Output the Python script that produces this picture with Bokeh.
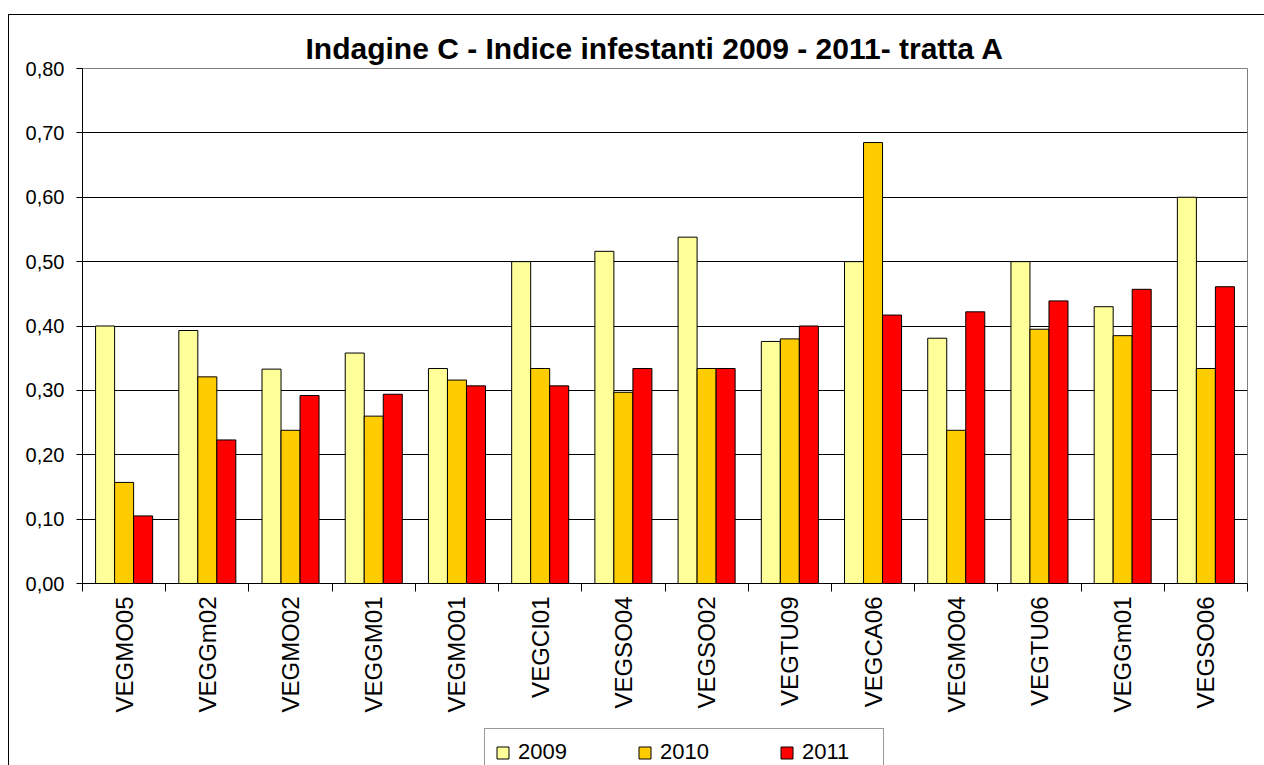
import math
from bokeh.plotting import figure
from bokeh.layouts import column
from bokeh.models import (ColumnDataSource, Range1d, FixedTicker, Legend, LegendItem)
from bokeh.transform import dodge
from bokeh.embed import file_html
from bokeh.resources import INLINE

# ---- data ----
categories = ["VEGMO05", "VEGGm02", "VEGMO02", "VEGGM01", "VEGMO01", "VEGCI01", "VEGSO04",
              "VEGSO02", "VEGTU09", "VEGCA06", "VEGMO04", "VEGTU06", "VEGGm01", "VEGSO06"]
v2009 = [0.400, 0.393, 0.333, 0.358, 0.334, 0.500, 0.516, 0.538, 0.376, 0.500, 0.381, 0.500, 0.430, 0.600]
v2010 = [0.157, 0.321, 0.238, 0.260, 0.316, 0.334, 0.297, 0.334, 0.380, 0.685, 0.238, 0.395, 0.385, 0.334]
v2011 = [0.105, 0.223, 0.292, 0.294, 0.307, 0.307, 0.334, 0.334, 0.400, 0.417, 0.422, 0.439, 0.457, 0.461]
series_names = ["2009", "2010", "2011"]
y_ticks = [0.0, 0.1, 0.2, 0.3, 0.4, 0.5, 0.6, 0.7, 0.8]
y_tick_labels = ["0,00", "0,10", "0,20", "0,30", "0,40", "0,50", "0,60", "0,70", "0,80"]
title_text = "Indagine C - Indice infestanti 2009 - 2011- tratta A"

colors = ["#FFFF99", "#FFCC00", "#FF0000"]
FONT = "Liberation Sans"

n = len(categories)
centers = [i + 0.5 for i in range(n)]
boundaries = [float(i) for i in range(n + 1)]

source = ColumnDataSource(dict(x=centers, y2009=v2009, y2010=v2010, y2011=v2011))

p = figure(width=1255, height=707, x_range=Range1d(0, n), y_range=Range1d(0, 0.8),
           output_backend="svg", toolbar_location=None,
           min_border_left=73, min_border_right=17, min_border_top=53, min_border_bottom=139,
           background_fill_color="white", border_fill_color="white")

bw = 0.2285
offsets = [-bw, 0.0, bw]
for name, col, off in zip(series_names, colors, offsets):
    p.vbar(x=dodge("x", off, range=p.x_range), top="y" + name, width=bw, source=source,
           fill_color=col, line_color="black", line_width=1)

# title
p.title.text = title_text
p.title.text_font = FONT
p.title.text_font_size = "30px"
p.title.text_font_style = "bold"
p.title.align = "left"
p.title.offset = 223
p.title.standoff = 8
p.title.text_color = "black"

# frame
p.outline_line_color = "#808080"
p.outline_line_width = 1

# y axis
p.yaxis.ticker = FixedTicker(ticks=y_ticks)
p.yaxis.major_label_overrides = dict(zip(y_ticks, y_tick_labels))
p.yaxis.major_label_text_font = FONT
p.yaxis.major_label_text_font_size = "20px"
p.yaxis.major_label_text_color = "black"
p.yaxis.major_tick_out = 6
p.yaxis.major_tick_in = 0
p.yaxis.minor_tick_line_color = None
p.yaxis.axis_line_color = "black"
p.yaxis.major_tick_line_color = "black"
p.yaxis.major_label_standoff = 12

# x axis
p.xaxis.ticker = FixedTicker(ticks=centers, minor_ticks=boundaries)
p.xaxis.major_label_overrides = dict(zip(centers, categories))
p.xaxis.major_label_orientation = math.pi / 2
p.xaxis.major_label_text_font = FONT
p.xaxis.major_label_text_font_size = "24px"
p.xaxis.major_label_text_color = "black"
p.xaxis.major_tick_line_color = None
p.xaxis.major_tick_out = 8
p.xaxis.major_tick_in = 0
p.xaxis.minor_tick_out = 8
p.xaxis.minor_tick_in = 0
p.xaxis.minor_tick_line_color = "black"
p.xaxis.axis_line_color = "black"
p.xaxis.major_label_standoff = 5

# grid
p.xgrid.visible = False
p.ygrid.ticker = FixedTicker(ticks=y_ticks)
p.ygrid.grid_line_color = "black"
p.ygrid.grid_line_width = 1

# legend strip (separate canvas below the chart)
lf = figure(width=1255, height=43, x_range=Range1d(0, 1), y_range=Range1d(0, 1),
            output_backend="svg", toolbar_location=None,
            min_border_left=0, min_border_right=0, min_border_top=0, min_border_bottom=0,
            background_fill_color="white", border_fill_color="white")
lf.axis.visible = False
lf.grid.visible = False
lf.outline_line_color = None
lf.title.visible = False
leg_renderers = []
for col in colors:
    # one placeholder row outside the visible range so the legend swatch can be drawn
    r = lf.vbar(x=[5.0], top=[0.0], width=0.1, fill_color=col, line_color="black", line_width=1)
    leg_renderers.append(r)

legend = Legend(items=[LegendItem(label=s, renderers=[r]) for s, r in zip(series_names, leg_renderers)],
                orientation="horizontal", location=(402, -11))
legend.label_text_font = FONT
legend.label_text_font_size = "22px"
legend.label_text_color = "black"
legend.glyph_width = 15
legend.glyph_height = 15
legend.label_standoff = 8
legend.label_width = 71
legend.spacing = 48
legend.padding = 10
legend.margin = 0
legend.border_line_color = "#333333"
legend.border_line_width = 1
legend.background_fill_color = "white"
legend.background_fill_alpha = 1.0
lf.add_layout(legend, "center")

layout = column(p, lf, spacing=0)
layout.margin = (14, 0, 0, 8)
layout.styles = {"border-top": "1px solid black", "border-left": "1px solid black"}

open("out.html", "w").write(file_html(layout, INLINE))
